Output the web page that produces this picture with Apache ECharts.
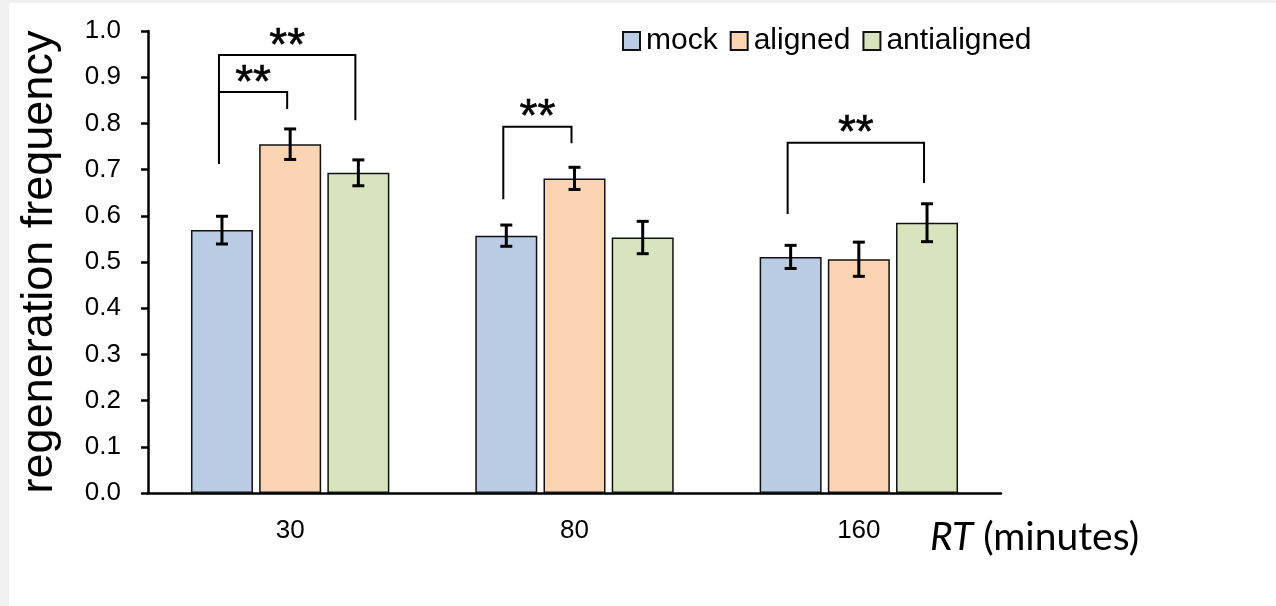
<!DOCTYPE html>
<html>
<head>
<meta charset="utf-8">
<script src="https://cdn.jsdelivr.net/npm/echarts@6/dist/echarts.min.js"></script>
<style>
  html, body { margin: 0; padding: 0; background: #f1f1f1; }
  #chart { position: absolute; left: 9px; top: 3px; width: 1267px; height: 603px; background: #fff; }
</style>
</head>
<body>
<div id="chart"></div>
<script>
// values
var categories = ['30', '80', '160'];
var mock = [0.569, 0.557, 0.511];
var aligned = [0.755, 0.681, 0.506];
var antialigned = [0.693, 0.553, 0.585];
var mockErr = [0.030, 0.023, 0.025];
var alignedErr = [0.033, 0.024, 0.037];
var antialignedErr = [0.028, 0.035, 0.041];
var yTicks = [0, 1, 0.1]; // min, max, step
// significance brackets: [category, fromBar, toBar, top, leftEnd, rightEnd]
var brackets = [
  [0, 0, 2, 0.948, 0.712, 0.807],
  [0, 0, 1, 0.868, 0.712, 0.831],
  [1, 0, 1, 0.793, 0.636, 0.757],
  [2, 0, 2, 0.758, 0.604, 0.671]
];

var BAR_W = 62, BAR_GAP = 6.2;
var FONT = "'Liberation Sans', Arial, sans-serif";

var chart = echarts.init(document.getElementById('chart'));

var errData = [];
[[mock, mockErr], [aligned, alignedErr], [antialigned, antialignedErr]].forEach(function (s, k) {
  s[0].forEach(function (v, i) {
    errData.push([i, k, v - s[1][i], v + s[1][i]]);
  });
});

function offsetOf(k) { return (k - 1) * (BAR_W + BAR_GAP); }

function renderErr(params, api) {
  var cat = api.value(0), k = api.value(1);
  var top = api.coord([cat, api.value(3)]);
  var bot = api.coord([cat, api.value(2)]);
  var x = top[0] + offsetOf(k);
  var st = { stroke: '#000', lineWidth: 3 };
  return {
    type: 'group',
    children: [
      { type: 'line', shape: { x1: x, y1: top[1], x2: x, y2: bot[1] }, style: st },
      { type: 'line', shape: { x1: x - 6, y1: top[1], x2: x + 6, y2: top[1] }, style: st },
      { type: 'line', shape: { x1: x - 6, y1: bot[1], x2: x + 6, y2: bot[1] }, style: st }
    ]
  };
}

function renderBracket(params, api) {
  var cat = api.value(0);
  var pTop = api.coord([cat, api.value(3)]);
  var pL = api.coord([cat, api.value(4)]);
  var pR = api.coord([cat, api.value(5)]);
  var xl = pTop[0] + offsetOf(api.value(1)) - 3;
  var xr = pTop[0] + offsetOf(api.value(2)) - 3;
  return {
    type: 'group',
    children: [
      {
        type: 'polyline',
        shape: { points: [[xl, pL[1]], [xl, pTop[1]], [xr, pTop[1]], [xr, pR[1]]] },
        style: { stroke: '#000', lineWidth: 2, fill: null }
      },
      {
        type: 'text',
        style: {
          text: '**', x: (xl + xr) / 2, y: pTop[1] - 8,
          align: 'center', verticalAlign: 'middle',
          font: '46px ' + FONT, fill: '#000', stroke: '#000', lineWidth: 0.6
        }
      }
    ]
  };
}

var barStyle = function (c) {
  return { color: c, borderColor: '#111', borderWidth: 1.5 };
};

var option = {
  animation: false,
  backgroundColor: '#fff',
  textStyle: { fontFamily: FONT },
  legend: {
    data: ['mock', 'aligned', 'antialigned'],
    left: 613, top: 23, padding: 0,
    itemWidth: 17, itemHeight: 18, itemGap: 12,
    icon: 'rect',
    textStyle: { fontSize: 30, color: '#000', fontFamily: FONT, padding: [0, 0, 0, 1] }
  },
  grid: { left: 134, right: 275, top: 28, bottom: 113 },
  xAxis: {
    type: 'category',
    data: categories,
    axisLine: { lineStyle: { color: '#000', width: 2.5 } },
    axisTick: { length: 6, lineStyle: { color: '#000', width: 2.5 } },
    axisLabel: { color: '#000', fontSize: 26, margin: 25, fontFamily: FONT },
    name: '{it|RT} (minutes)',
    nameLocation: 'end',
    nameGap: -71,
    nameTextStyle: {
      fontFamily: 'Lato', fontSize: 39, color: '#000',
      padding: [88, 0, 0, 0],
      rich: { it: { fontFamily: 'Lato', fontStyle: 'italic', fontSize: 39, color: '#000' } }
    }
  },
  yAxis: {
    type: 'value',
    min: yTicks[0], max: yTicks[1], interval: yTicks[2],
    splitLine: { show: false },
    axisLine: { show: true, lineStyle: { color: '#000', width: 2.5 } },
    axisTick: { show: true, length: 7, lineStyle: { color: '#000', width: 2.5 } },
    axisLabel: {
      color: '#000', fontSize: 26, margin: 27, fontFamily: FONT,
      formatter: function (v) { return v.toFixed(1); }
    },
    name: 'regeneration frequency',
    nameLocation: 'middle',
    nameGap: 86,
    nameRotate: 90,
    nameTextStyle: { fontSize: 45, color: '#000', fontFamily: FONT }
  },
  series: [
    { name: 'mock', type: 'bar', data: mock, barWidth: BAR_W, barGap: '10%', itemStyle: barStyle('#b9cce4') },
    { name: 'aligned', type: 'bar', data: aligned, barWidth: BAR_W, barGap: '10%', itemStyle: barStyle('#fbd4b4') },
    { name: 'antialigned', type: 'bar', data: antialigned, barWidth: BAR_W, barGap: '10%', itemStyle: barStyle('#d7e4bd') },
    { type: 'custom', renderItem: renderErr, data: errData, encode: { x: 0, y: [2, 3] }, z: 5, silent: true },
    { type: 'custom', renderItem: renderBracket, data: brackets, encode: { x: 0, y: 3 }, z: 5, silent: true }
  ]
};

chart.setOption(option);
</script>
</body>
</html>
